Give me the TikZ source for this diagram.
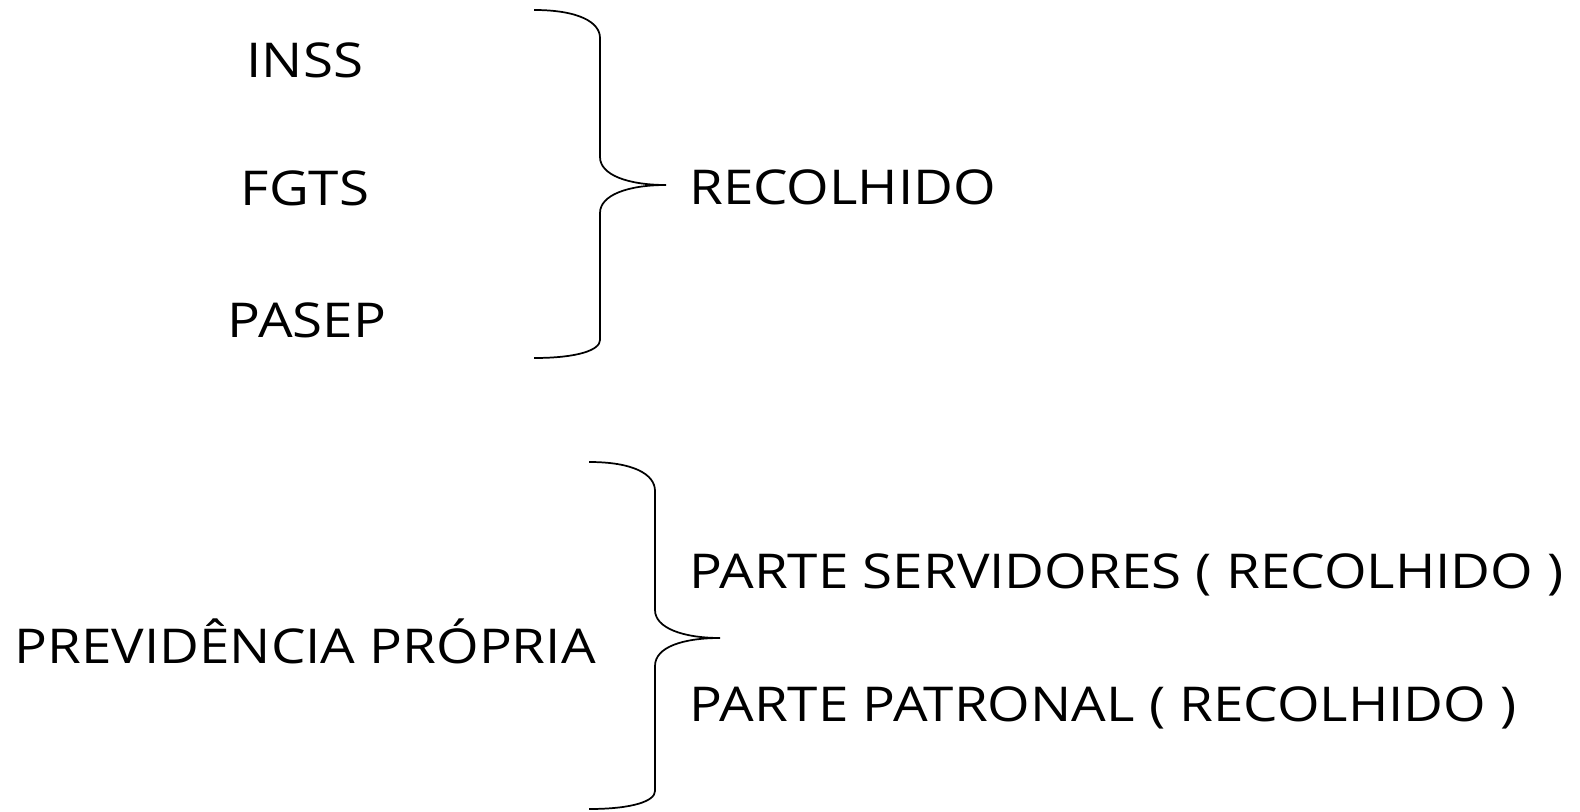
\documentclass[tikz,border=0pt]{standalone}
\usepackage{fontspec}
\setmainfont[FakeStretch=1.14]{Open Sans}
\begin{document}
\begin{tikzpicture}[x=0.75pt,y=-0.75pt,
  lbl/.style={inner sep=0pt,font=\fontsize{36}{40}\selectfont},
  brace/.style={draw=black,line width=1.3pt}]
\useasboundingbox (0,0) rectangle (1580,812);
\node[lbl] (inss) at (305,60) {INSS};
\node[lbl] (fgts) at (305,188) {FGTS};
\node[lbl] (pasep) at (307,320) {PASEP};
\node[lbl,anchor=west] (rec) at (689,187) {RECOLHIDO};
\node[lbl,anchor=east] (prev) at (596,641) {PREVIDÊNCIA PRÓPRIA};
\node[lbl,anchor=west] (serv) at (689,575) {PARTE SERVIDORES ( RECOLHIDO )};
\node[lbl,anchor=west] (patr) at (689,708) {PARTE PATRONAL ( RECOLHIDO )};
\coordinate (b1t) at (534,10);
\coordinate (b1m) at (666,185);
\coordinate (b1b) at (534,358);
\draw[brace] (b1t) .. controls (578,10) and (600,22) .. (600,38) -- (600,157)
  .. controls (600,175) and (628,185) .. (b1m)
  .. controls (628,185) and (600,195) .. (600,213) -- (600,340)
  .. controls (600,350) and (578,358) .. (b1b);
\coordinate (b2t) at (589,462);
\coordinate (b2m) at (720,638);
\coordinate (b2b) at (589,809);
\draw[brace] (b2t) .. controls (633,462) and (655,474) .. (655,491) -- (655,610)
  .. controls (655,628) and (683,638) .. (b2m)
  .. controls (683,638) and (655,647) .. (655,666) -- (655,791)
  .. controls (655,801) and (633,809) .. (b2b);
\end{tikzpicture}
\end{document}
